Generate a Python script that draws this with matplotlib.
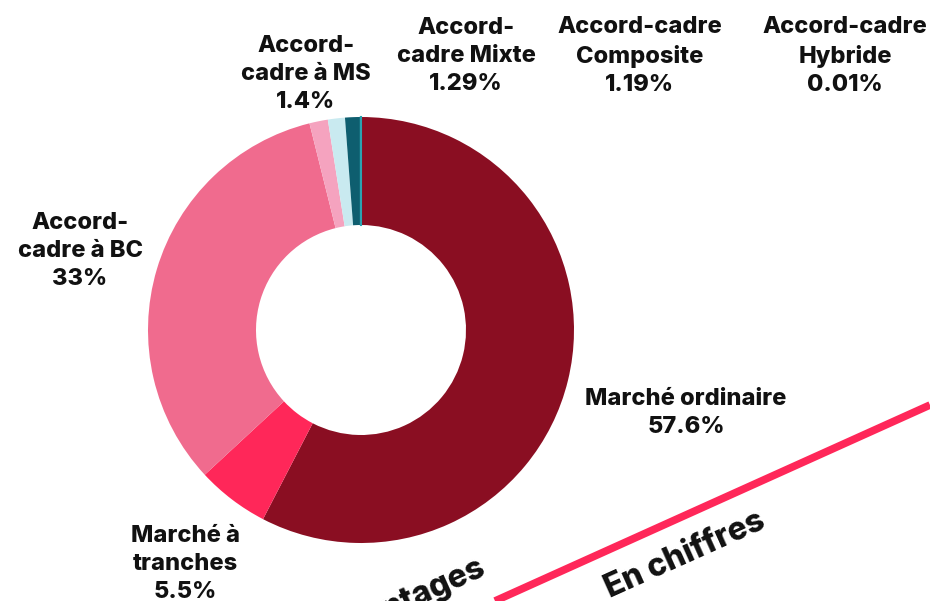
import matplotlib.pyplot as plt

# data
labels = ["Marché ordinaire", "Marché à tranches", "Accord-cadre à BC", "Accord-cadre à MS",
          "Accord-cadre Mixte", "Accord-cadre Composite", "Accord-cadre Hybride"]
shares = [57.6, 5.5, 33, 1.4, 1.29, 1.19, 0.01]
share_text = ["57.6%", "5.5%", "33%", "1.4%", "1.29%", "1.19%", "0.01%"]
label_text = ["Marché ordinaire", "Marché à\ntranches", "Accord-\ncadre à BC", "Accord-\ncadre à MS",
              "Accord-\ncadre Mixte", "Accord-cadre\nComposite", "Accord-cadre\nHybride"]
colors = ["#8A0E22", "#FF2759", "#F06B8E", "#F5A3BF", "#C9EAF0", "#0E5E6F", "#2BA3B0"]

# label anchor positions (pixels, y measured from top)
label_pos = [(686, 413), (185, 564), (80, 251), (306, 74), (466, 56), (640, 56), (845, 56)]

W, H = 930, 601
FAMILY = ["Inter", "Open Sans", "DejaVu Sans"]

fig = plt.figure(figsize=(9.3, 6.01), dpi=100)
ax = fig.add_axes([0, 0, 1, 1])

wedges, _ = ax.pie(shares, colors=colors, startangle=90, counterclock=False,
                   center=(361, H - 330), radius=213,
                   wedgeprops=dict(width=108, linewidth=0))
wedges[-1].set_edgecolor(colors[-1])
wedges[-1].set_linewidth(1.5)

for txt, pct, (x, y) in zip(label_text, share_text, label_pos):
    ax.text(x, H - y, txt + "\n" + pct, ha="center", va="center",
            linespacing=1.38, color="#111111", family=FAMILY,
            fontweight="heavy", fontsize=17)

# decorative diagonal and section titles
ax.plot([495, 930], [H - 601, H - 405], color="#FF2759", lw=5.5, solid_capstyle="butt")
ax.text(487, H - 574, "Pourcentages", rotation=24.2, rotation_mode="anchor",
        ha="right", va="baseline", family=FAMILY,
        fontweight="heavy", fontsize=23, color="#111111")
ax.text(610, H - 598, "En chiffres", rotation=24.2, rotation_mode="anchor",
        ha="left", va="baseline", family=FAMILY,
        fontweight="heavy", fontsize=23, color="#111111")

ax.set_xlim(0, W)
ax.set_ylim(0, H)
ax.set_aspect("equal")
ax.axis("off")

fig.savefig("out.png", dpi=100, facecolor="white")
